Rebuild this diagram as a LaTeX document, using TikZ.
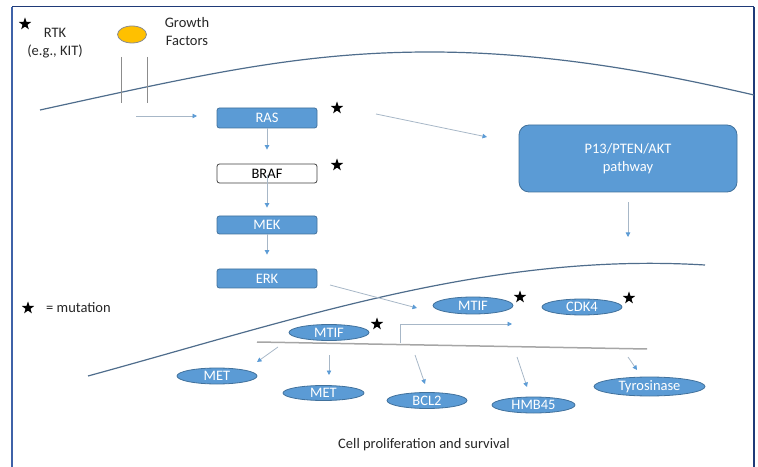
\documentclass[tikz,border=0pt]{standalone}
\usepackage{fontspec}
\setmainfont{Carlito}
\usetikzlibrary{arrows.meta,shapes.geometric}

\definecolor{boxblue}{HTML}{5B9BD5}
\definecolor{boxline}{HTML}{41719C}
\definecolor{arrline}{HTML}{A7B7C7}
\definecolor{membrane}{HTML}{4F6D8C}
\definecolor{gfyellow}{HTML}{FFC000}
\definecolor{frameblue}{HTML}{3F62A8}
\definecolor{framenavy}{HTML}{1F3A78}

\begin{document}
\begin{tikzpicture}[x=1bp,y=-1bp,
  lbl/.style={font=\fontsize{14.5bp}{18bp}\selectfont, inner sep=0pt, text=black!85},
  kinase/.style={lbl, draw=boxline, fill=boxblue, text=white, rounded corners=2.5bp,
    minimum width=100bp, minimum height=19bp, line width=0.8bp},
  gene/.style={lbl, ellipse, draw=boxline, fill=boxblue, text=white,
    minimum width=80bp, minimum height=16bp, line width=0.8bp},
  mutstar/.style={star, star points=5, star point ratio=2.5, fill=black,
    minimum size=13bp, inner sep=0pt},
  sig/.style={draw=arrline, line width=0.8bp,
    -{Triangle[length=4.5bp,width=4.5bp,color=boxblue]}}]
\useasboundingbox (0,0) rectangle (758,467);
% frame
\draw[frameblue, line width=2.5bp] (12,7) -- (12,467);
\draw[framenavy, line width=1bp] (12,7) -- (754,7);
\draw[framenavy, line width=2.5bp] (754,7) -- (754,467);
% membranes
\draw[membrane, line width=1.2bp] (40,110) .. controls (200,75) and (300,52) .. (430,52)
  .. controls (560,52) and (680,78) .. (754,95);
\draw[membrane, line width=1.2bp] (88,376) .. controls (300,318) and (490,252) .. (705,265);
% receptor and DNA
\draw[black!45, line width=1bp] (121,57) -- (121,103);
\draw[black!45, line width=1bp] (147,57) -- (147,103);
\draw[black!35, line width=1.5bp] (257,342) -- (647,349);

% legend and ligand
\node[mutstar] (rtkstar) at (25,24) {};
\node[lbl, align=center] (rtk) at (55,43) {RTK\\(e.g., KIT)};
\node[ellipse, draw=black!45, fill=gfyellow, minimum width=29bp, minimum height=17bp,
  inner sep=0pt, line width=0.8bp] (gf) at (132,34.5) {};
\node[lbl, align=center] (gflabel) at (187,31.5) {Growth\\Factors};
\node[mutstar] (legstar) at (28,308) {};
\node[lbl, anchor=west] (legend) at (46,308) {= mutation};

% MAPK cascade
\node[kinase, minimum height=20bp] (ras) at (267,118) {RAS};
\node[kinase, fill=white, draw=black!75, text=black] (braf) at (267,173.5) {BRAF};
\node[kinase, minimum height=18bp] (mek) at (267,225) {MEK};
\node[kinase] (erk) at (267,278.5) {ERK};
\node[mutstar] (rasstar) at (337,108) {};
\node[mutstar] (brafstar) at (337,165) {};
\node[kinase, rounded corners=10bp, minimum width=218bp, minimum height=67bp,
  align=center] (pi3k) at (628,158.5) {P13/PTEN/AKT\\pathway};

% nucleus
\node[gene, minimum height=17bp] (mtifa) at (473,305.5) {MTIF};
\node[gene] (cdk4) at (582,307) {CDK4};
\node[gene] (mtifb) at (329,332.5) {MTIF};
\node[mutstar] (mtifastar) at (520,297) {};
\node[mutstar] (cdk4star) at (629,298) {};
\node[mutstar] (mtifbstar) at (377,324) {};
\node[gene] (meta) at (217,376) {MET};
\node[gene, minimum width=81bp, minimum height=15bp] (metb) at (323.5,393) {MET};
\node[gene] (bcl2) at (427,400.5) {BCL2};
\node[gene, minimum width=83bp] (hmb45) at (533.5,405) {HMB45};
\node[gene, minimum width=111bp, minimum height=19bp] (tyr) at (649.5,386.5) {Tyrosinase};
\node[lbl] (outcome) at (424,445) {Cell proliferation and survival};

% connectors
\coordinate (gfout) at (136,116);
\coordinate (rasin) at (197,116);
\coordinate (rasout) at (376,114);
\coordinate (pi3kin) at (487,137);
\coordinate (pi3kout) at (628,237);
\coordinate (erkout) at (330,285);
\coordinate (mtifin) at (417,308);
\coordinate (tss) at (400,343);
\coordinate (tssout) at (512,324);
\draw[sig] (gfout) -- (rasin);
\draw[sig, shorten >=14bp] (ras.south) -- (braf.north);
\draw[sig, shorten >=8bp] ([yshift=-1.5bp]braf.center) -- (mek.north);
\draw[sig, shorten >=14bp] (mek.south) -- (erk.north);
\draw[sig] (rasout) -- (pi3kin);
\draw[sig, shorten <=10bp] (pi3k.south) -- (pi3kout);
\draw[sig] (erkout) -- (mtifin);
\draw[sig] (tss) |- (tssout);

\coordinate (metaout) at (278,347);
\coordinate (metain) at (257,362);
\coordinate (metbout) at (329,355);
\coordinate (metbin) at (329,375);
\coordinate (bcl2out) at (415,355);
\coordinate (bcl2in) at (425,384);
\coordinate (hmb45out) at (517,357);
\coordinate (hmb45in) at (527,387);
\coordinate (tyrout) at (628,357);
\coordinate (tyrin) at (637,370);
\draw[sig] (metaout) -- (metain);
\draw[sig] (metbout) -- (metbin);
\draw[sig] (bcl2out) -- (bcl2in);
\draw[sig] (hmb45out) -- (hmb45in);
\draw[sig] (tyrout) -- (tyrin);
\end{tikzpicture}
\end{document}
